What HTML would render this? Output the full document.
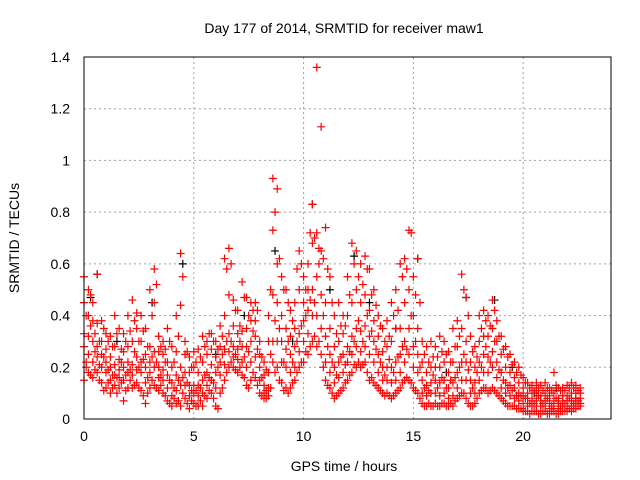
<!DOCTYPE html>
<html><head><meta charset="utf-8"><style>
body{margin:0;background:#fff}
svg{display:block;font-family:"Liberation Sans",sans-serif}
</style></head><body>
<svg id="chart" width="640" height="480" viewBox="0 0 640 480">
<text x="344" y="33" font-size="14" text-anchor="middle">Day 177 of 2014, SRMTID for receiver maw1</text>
<text transform="translate(19,238) rotate(-90)" font-size="14" text-anchor="middle">SRMTID / TECUs</text>
<text x="344" y="471" font-size="14" text-anchor="middle">GPS time / hours</text>
<g id="grid"></g>
<g id="ticks"></g>
<g id="blk"></g>
<g id="red"></g>
<rect x="84" y="57" width="527" height="362" fill="none" stroke="#000" stroke-width="1"/>
</svg>
<script>
const xTicks=[0,5,10,15,20];
const yTicks=[0,0.2,0.4,0.6,0.8,1,1.2,1.4];
const yTickLabels=["0","0.2","0.4","0.6","0.8","1","1.2","1.4"];
const hours=[0.0,0.2,0.4,0.6,0.8,1.0,1.2,1.4,1.6,1.8,2.0,2.2,2.4,2.6,2.8,3.0,3.2,3.4,3.6,3.8,4.0,4.2,4.4,4.6,4.8,5.0,5.2,5.4,5.6,5.8,6.0,6.2,6.4,6.6,6.8,7.0,7.2,7.4,7.6,7.8,8.0,8.2,8.4,8.6,8.8,9.0,9.2,9.4,9.6,9.8,10.0,10.2,10.4,10.6,10.8,11.0,11.2,11.4,11.6,11.8,12.0,12.2,12.4,12.6,12.8,13.0,13.2,13.4,13.6,13.8,14.0,14.2,14.4,14.6,14.8,15.0,15.2,15.4,15.6,15.8,16.0,16.2,16.4,16.6,16.8,17.0,17.2,17.4,17.6,17.8,18.0,18.2,18.4,18.6,18.8,19.0,19.2,19.4,19.6,19.8,20.0,20.2,20.4,20.6,20.8,21.0,21.2,21.4,21.6,21.8,22.0,22.2,22.4,22.6];
const valsLow=[0.15,0.18,0.16,0.18,0.14,0.12,0.10,0.13,0.12,0.07,0.12,0.12,0.14,0.11,0.06,0.12,0.13,0.11,0.10,0.07,0.05,0.06,0.05,0.08,0.04,0.06,0.05,0.05,0.08,0.10,0.05,0.10,0.15,0.20,0.20,0.18,0.17,0.13,0.15,0.16,0.10,0.08,0.09,0.22,0.20,0.14,0.12,0.12,0.15,0.20,0.22,0.25,0.30,0.28,0.25,0.15,0.12,0.08,0.10,0.12,0.15,0.18,0.20,0.20,0.22,0.15,0.14,0.12,0.10,0.10,0.08,0.10,0.12,0.15,0.15,0.12,0.10,0.06,0.05,0.05,0.06,0.05,0.06,0.05,0.05,0.08,0.10,0.08,0.05,0.06,0.10,0.12,0.10,0.12,0.10,0.08,0.06,0.05,0.05,0.04,0.03,0.03,0.03,0.03,0.02,0.03,0.02,0.03,0.02,0.03,0.03,0.03,0.04,0.05];
const valsLoMid=[0.28,0.25,0.22,0.24,0.20,0.18,0.15,0.17,0.16,0.15,0.18,0.17,0.19,0.18,0.14,0.18,0.20,0.16,0.15,0.12,0.09,0.11,0.13,0.13,0.09,0.10,0.09,0.10,0.13,0.15,0.12,0.17,0.21,0.26,0.24,0.23,0.22,0.20,0.22,0.24,0.15,0.10,0.12,0.30,0.30,0.22,0.20,0.18,0.20,0.26,0.30,0.33,0.40,0.40,0.35,0.22,0.18,0.14,0.16,0.18,0.22,0.25,0.28,0.26,0.28,0.25,0.22,0.18,0.15,0.15,0.14,0.15,0.18,0.22,0.25,0.20,0.18,0.10,0.09,0.10,0.10,0.09,0.10,0.08,0.09,0.12,0.15,0.15,0.10,0.10,0.15,0.18,0.18,0.20,0.16,0.12,0.10,0.09,0.08,0.07,0.06,0.05,0.05,0.05,0.05,0.05,0.04,0.05,0.04,0.05,0.05,0.05,0.06,0.06];
const valsMid=[0.33,0.32,0.30,0.28,0.25,0.22,0.20,0.21,0.19,0.20,0.22,0.21,0.24,0.22,0.20,0.22,0.26,0.20,0.19,0.17,0.14,0.17,0.20,0.18,0.13,0.13,0.13,0.15,0.18,0.21,0.18,0.22,0.27,0.33,0.28,0.27,0.28,0.28,0.30,0.32,0.20,0.13,0.18,0.48,0.45,0.30,0.27,0.25,0.28,0.33,0.38,0.42,0.50,0.55,0.48,0.32,0.25,0.20,0.22,0.25,0.28,0.32,0.35,0.34,0.36,0.32,0.30,0.25,0.20,0.20,0.20,0.22,0.25,0.30,0.35,0.28,0.25,0.15,0.13,0.14,0.15,0.14,0.15,0.12,0.14,0.18,0.22,0.22,0.15,0.14,0.22,0.25,0.24,0.26,0.22,0.18,0.14,0.13,0.12,0.10,0.09,0.08,0.07,0.08,0.07,0.07,0.06,0.07,0.06,0.07,0.07,0.07,0.08,0.08];
const valsHiMid=[0.45,0.40,0.38,0.37,0.30,0.27,0.24,0.28,0.23,0.26,0.28,0.30,0.35,0.30,0.25,0.28,0.45,0.26,0.25,0.22,0.20,0.26,0.44,0.25,0.18,0.20,0.18,0.22,0.25,0.27,0.24,0.28,0.40,0.48,0.36,0.33,0.34,0.35,0.38,0.38,0.25,0.17,0.30,0.73,0.60,0.40,0.35,0.32,0.35,0.50,0.45,0.50,0.68,0.72,0.65,0.45,0.35,0.28,0.30,0.33,0.40,0.45,0.50,0.45,0.48,0.42,0.38,0.32,0.26,0.28,0.30,0.35,0.35,0.45,0.50,0.40,0.35,0.22,0.18,0.20,0.20,0.20,0.22,0.18,0.22,0.28,0.35,0.30,0.22,0.20,0.30,0.32,0.32,0.35,0.30,0.25,0.20,0.18,0.16,0.14,0.12,0.10,0.10,0.11,0.09,0.10,0.09,0.10,0.08,0.09,0.09,0.10,0.10,0.10];
const valsHigh=[0.55,0.50,0.45,0.56,0.38,0.33,0.32,0.40,0.35,0.33,0.40,0.46,0.41,0.40,0.35,0.50,0.58,0.32,0.30,0.35,0.28,0.40,0.64,0.30,0.24,0.26,0.27,0.32,0.30,0.33,0.30,0.36,0.62,0.66,0.46,0.42,0.53,0.47,0.45,0.45,0.30,0.22,0.40,0.93,0.89,0.55,0.50,0.42,0.45,0.65,0.55,0.60,0.83,1.36,1.13,0.74,0.55,0.40,0.45,0.40,0.55,0.68,0.65,0.60,0.63,0.58,0.50,0.40,0.35,0.38,0.45,0.50,0.60,0.62,0.73,0.55,0.62,0.30,0.28,0.30,0.28,0.32,0.30,0.26,0.35,0.38,0.56,0.47,0.32,0.28,0.40,0.42,0.40,0.46,0.38,0.32,0.28,0.25,0.22,0.20,0.16,0.14,0.13,0.14,0.13,0.14,0.12,0.18,0.12,0.12,0.13,0.14,0.13,0.12];
const hoursB=[0.1,0.3,0.5,0.7,0.9,1.1,1.3,1.5,1.7,1.9,2.1,2.3,2.5,2.7,2.9,3.1,3.3,3.5,3.7,3.9,4.1,4.3,4.5,4.7,4.9,5.1,5.3,5.5,5.7,5.9,6.1,6.3,6.5,6.7,6.9,7.1,7.3,7.5,7.7,7.9,8.1,8.3,8.5,8.7,8.9,9.1,9.3,9.5,9.7,9.9,10.1,10.3,10.5,10.7,10.9,11.1,11.3,11.5,11.7,11.9,12.1,12.3,12.5,12.7,12.9,13.1,13.3,13.5,13.7,13.9,14.1,14.3,14.5,14.7,14.9,15.1,15.3,15.5,15.7,15.9,16.1,16.3,16.5,16.7,16.9,17.1,17.3,17.5,17.7,17.9,18.1,18.3,18.5,18.7,18.9,19.1,19.3,19.5,19.7,19.9,20.1,20.3,20.5,20.7,20.9,21.1,21.3,21.5,21.7,21.9,22.1,22.3,22.5];
const valsBLow=[0.20,0.17,0.19,0.15,0.11,0.14,0.12,0.10,0.14,0.11,0.15,0.13,0.12,0.09,0.10,0.15,0.12,0.13,0.09,0.06,0.08,0.07,0.10,0.06,0.07,0.05,0.07,0.09,0.11,0.08,0.04,0.12,0.18,0.22,0.19,0.20,0.16,0.12,0.18,0.13,0.09,0.08,0.12,0.18,0.15,0.11,0.10,0.14,0.18,0.22,0.26,0.28,0.32,0.30,0.20,0.13,0.10,0.09,0.11,0.14,0.17,0.21,0.22,0.21,0.18,0.16,0.13,0.11,0.09,0.09,0.09,0.11,0.14,0.16,0.14,0.11,0.08,0.05,0.06,0.05,0.05,0.06,0.05,0.06,0.07,0.09,0.10,0.06,0.05,0.08,0.11,0.12,0.11,0.11,0.09,0.07,0.05,0.05,0.04,0.04,0.03,0.02,0.03,0.02,0.03,0.02,0.03,0.02,0.03,0.03,0.04,0.04,0.05];
const valsBMid=[0.22,0.36,0.26,0.21,0.24,0.19,0.17,0.16,0.22,0.17,0.19,0.26,0.20,0.23,0.16,0.24,0.22,0.17,0.22,0.15,0.12,0.15,0.16,0.14,0.11,0.11,0.12,0.17,0.16,0.14,0.20,0.25,0.30,0.30,0.25,0.30,0.24,0.26,0.34,0.27,0.16,0.11,0.25,0.38,0.35,0.22,0.30,0.22,0.30,0.36,0.40,0.46,0.45,0.60,0.40,0.28,0.22,0.17,0.24,0.21,0.26,0.30,0.38,0.30,0.40,0.34,0.27,0.22,0.17,0.23,0.18,0.24,0.28,0.27,0.40,0.30,0.20,0.12,0.11,0.17,0.12,0.16,0.12,0.15,0.16,0.20,0.25,0.19,0.12,0.18,0.20,0.28,0.22,0.30,0.19,0.15,0.12,0.11,0.09,0.09,0.08,0.06,0.06,0.09,0.06,0.08,0.05,0.08,0.05,0.06,0.08,0.06,0.07];
const valsBHigh=[0.40,0.48,0.33,0.30,0.35,0.30,0.28,0.33,0.27,0.30,0.34,0.38,0.30,0.34,0.28,0.40,0.52,0.28,0.27,0.30,0.22,0.32,0.55,0.26,0.20,0.22,0.24,0.28,0.33,0.30,0.27,0.32,0.58,0.60,0.42,0.36,0.47,0.40,0.42,0.42,0.24,0.19,0.50,0.80,0.62,0.50,0.45,0.38,0.58,0.60,0.50,0.72,0.70,0.66,0.62,0.58,0.45,0.33,0.36,0.36,0.48,0.60,0.55,0.52,0.58,0.48,0.44,0.36,0.30,0.32,0.40,0.42,0.55,0.58,0.72,0.48,0.45,0.25,0.22,0.24,0.24,0.26,0.25,0.22,0.28,0.32,0.50,0.40,0.26,0.24,0.35,0.38,0.36,0.42,0.32,0.27,0.24,0.21,0.18,0.17,0.14,0.12,0.11,0.12,0.11,0.12,0.11,0.13,0.11,0.11,0.12,0.12,0.11];
const blackHours=[0.3,0.6,1.5,3.1,4.5,6.0,7.3,8.7,9.5,10.4,11.2,12.3,13.0,14.2,15.2,16.5,17.4,18.7,19.5,20.5,21.5,22.4];
const blackVals=[0.47,0.56,0.30,0.45,0.60,0.25,0.40,0.65,0.30,0.83,0.50,0.63,0.45,0.35,0.62,0.18,0.47,0.46,0.20,0.10,0.12,0.08];

const NS="http://www.w3.org/2000/svg";
const X0=84,X1=611,Y0=419,Y1=57,XMAX=24,YMAX=1.4;
function xs(v){return X0+(X1-X0)*v/XMAX;}
function ys(v){return Y0-(Y0-Y1)*v/YMAX;}
const grid=document.getElementById('grid'),ticks=document.getElementById('ticks');
function mk(tag,attrs,parent){const e=document.createElementNS(NS,tag);for(const k in attrs)e.setAttribute(k,attrs[k]);parent.appendChild(e);return e;}
xTicks.forEach(t=>{
  const x=xs(t);
  if(t>0){const g=mk('line',{x1:x,x2:x,y1:Y1,y2:Y0,stroke:'#a0a0a0','stroke-dasharray':'2,3'},grid);
  
  }
  const l=mk('text',{x:x,y:Y0+22,'font-size':14,'text-anchor':'middle'},ticks);l.textContent=String(t);
  
  
});
yTicks.forEach((t,i)=>{
  const y=ys(t);
  if(t>0&&t<YMAX){const g=mk('line',{x1:X0,x2:X1,y1:y,y2:y,stroke:'#a0a0a0','stroke-dasharray':'2,3'},grid);
  
  }
  const l=mk('text',{x:X0-14,y:y+5,'font-size':14,'text-anchor':'end'},ticks);l.textContent=yTickLabels[i];
  
  
});
function plus(x,y,col,parent){
  const p=mk('path',{d:`M${x-4},${y}h8M${x},${y-4}v8`,stroke:col,'stroke-width':1.2,fill:'none'},parent);
  
  
}
const blk=document.getElementById('blk'),red=document.getElementById('red');
blackHours.forEach((h,i)=>plus(xs(h),ys(blackVals[i]),'#000',blk));
[valsLow,valsLoMid,valsMid,valsHiMid,valsHigh].forEach(series=>{
  hours.forEach((h,i)=>{if(series[i]!==undefined)plus(xs(h),ys(series[i]),'#ff0000',red);});
});
[valsBLow,valsBMid,valsBHigh].forEach(series=>{
  hoursB.forEach((h,i)=>{if(series[i]!==undefined)plus(xs(h),ys(series[i]),'#ff0000',red);});
});
</script>
</body></html>
